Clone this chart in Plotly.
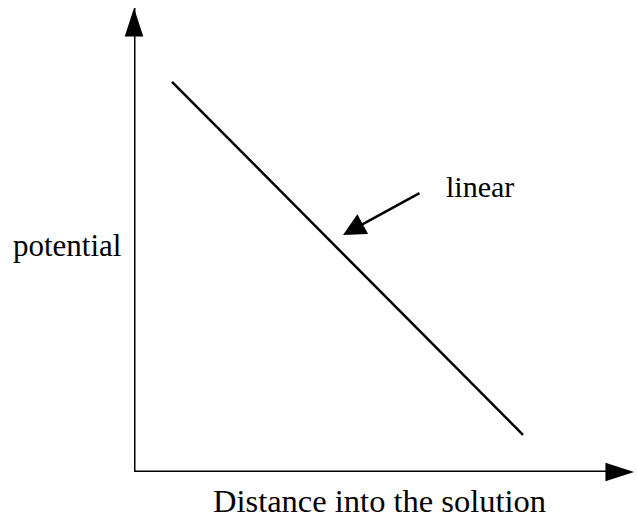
import plotly.graph_objects as go

# schematic data (normalised units: axes run 0..1)
distance = [0.076, 0.778]
potential = [0.841, 0.080]
axis_x = [0, 1.0]
axis_y = [0, 1.0]
xlabel = "Distance into the solution"
ylabel = "potential"
note = "linear"

FONT = "Liberation Serif, Times New Roman, serif"

fig = go.Figure()
# line
fig.add_trace(go.Scatter(x=distance, y=potential, mode="lines",
                         line=dict(color="black", width=2.5), hoverinfo="skip"))
# axes with arrowheads
fig.add_trace(go.Scatter(x=[axis_x[0], axis_x[1]], y=[0, 0], mode="lines+markers",
                         line=dict(color="black", width=3),
                         marker=dict(symbol=["circle", "arrow"], size=[0, 30], angleref="previous",
                                     color="black", opacity=1, line=dict(width=0)),
                         hoverinfo="skip"))
fig.add_trace(go.Scatter(x=[0, 0], y=[axis_y[0], axis_y[1]], mode="lines+markers",
                         line=dict(color="black", width=3),
                         marker=dict(symbol=["circle", "arrow"], size=[0, 30], angleref="previous",
                                     color="black", opacity=1, line=dict(width=0)),
                         hoverinfo="skip"))

fig.add_annotation(x=0.418, y=0.511, ax=0.574, ay=0.603, xref="x", yref="y",
                   axref="x", ayref="y", showarrow=True, arrowhead=2, arrowsize=1.8,
                   arrowwidth=2.5, arrowcolor="black", text="")
fig.add_annotation(x=0.692, y=0.616, xref="paper", yref="paper", text=note, showarrow=False,
                   xanchor="center", yanchor="middle",
                   font=dict(family=FONT, size=30, color="black"))
fig.add_annotation(x=-0.134, y=0.489, xref="paper", yref="paper", text=ylabel, showarrow=False,
                   xanchor="center", yanchor="middle",
                   font=dict(family=FONT, size=31, color="black"))
fig.add_annotation(x=0.491, y=-0.062, xref="paper", yref="paper", text=xlabel, showarrow=False,
                   xanchor="center", yanchor="middle",
                   font=dict(family=FONT, size=32.5, color="black"))

fig.update_layout(
    width=637, height=519,
    margin=dict(l=134, r=3, t=8, b=47, autoexpand=False),
    paper_bgcolor="white", plot_bgcolor="white",
    showlegend=False,
    xaxis=dict(range=[0, 1], visible=False, fixedrange=True),
    yaxis=dict(range=[0, 1], visible=False, fixedrange=True),
)
fig.update_traces(cliponaxis=False)
fig.write_html("out.html", config={"displayModeBar": False},
               post_script="document.body.style.margin='0';document.body.style.overflow='hidden';")
